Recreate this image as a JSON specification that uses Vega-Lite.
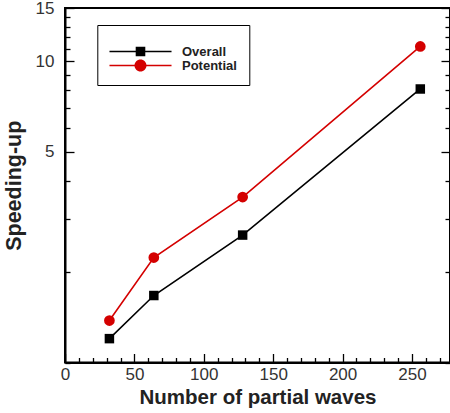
{
  "$schema": "https://vega.github.io/schema/vega-lite/v6.json",
  "width": 385,
  "height": 354.5,
  "autosize": {"type": "none"},
  "padding": {"left": 65, "top": 8, "right": 0, "bottom": 50.5},
  "background": "white",
  "config": {
    "font": "Liberation Sans",
    "view": {"stroke": "black", "strokeWidth": 2},
    "axis": {
      "grid": false,
      "labelOverlap": false,
      "domainColor": "black",
      "domainWidth": 2,
      "tickColor": "black",
      "tickWidth": 1.3,
      "labelFont": "Liberation Sans",
      "labelFontSize": 17,
      "labelColor": "#333333",
      "titleFont": "Liberation Sans",
      "titleFontSize": 20.5,
      "titleFontWeight": "bold",
      "titleColor": "#222222"
    },
    "legend": {
      "titleFontSize": 4,
      "titlePadding": 4,
      "orient": "none",
      "legendX": 32.3,
      "legendY": 17,
      "padding": 12,
      "rowPadding": 0,
      "columnPadding": 0,
      "symbolSize": 144,
      "symbolOpacity": 1,
      "symbolOffset": 24.7,
      "symbolStrokeWidth": 0,
      "labelOffset": 35,
      "labelFont": "Liberation Sans",
      "labelFontSize": 13,
      "labelFontWeight": "bold",
      "labelColor": "#222222",
      "strokeColor": "black",
      "fillColor": "white"
    }
  },
  "data": {
    "values": [
      {"waves": 32, "speedup": 1.20, "series": "Overall"},
      {"waves": 64, "speedup": 1.668, "series": "Overall"},
      {"waves": 128, "speedup": 2.647, "series": "Overall"},
      {"waves": 256, "speedup": 8.08, "series": "Overall"},
      {"waves": 32, "speedup": 1.378, "series": "Potential"},
      {"waves": 64, "speedup": 2.23, "series": "Potential"},
      {"waves": 128, "speedup": 3.539, "series": "Potential"},
      {"waves": 256, "speedup": 11.18, "series": "Potential"}
    ]
  },
  "layer": [
    {
      "layer": [
        {
          "mark": {"type": "point", "filled": true, "opacity": 0},
          "encoding": {
            "x": {
              "field": "waves",
              "type": "quantitative",
              "scale": {"domain": [0, 277.4], "nice": false, "zero": false},
              "axis": {
                "title": "Number of partial waves",
                "values": [0, 10, 20, 30, 40, 50, 60, 70, 80, 90, 100, 110, 120, 130, 140, 150, 160, 170, 180, 190, 200, 210, 220, 230, 240, 250, 260, 270],
                "tickCount": 100,
                "labelExpr": "datum.value % 50 == 0 ? datum.label : ''",
                "tickSize": {"condition": {"test": "datum.value % 50 == 0", "value": -9}, "value": -5},
                "labelPadding": 13,
                "titlePadding": 1,
                "labelFlush": false,
                "labelOverlap": false
              }
            },
            "y": {
              "field": "speedup",
              "type": "quantitative",
              "scale": {"type": "log", "domain": [1, 15], "nice": false},
              "axis": {
                "title": "Speeding-up",
                "titleFontSize": 21.5,
                "values": [1, 2, 3, 4, 5, 6, 7, 8, 9, 10, 11, 12, 13, 14, 15],
                "tickCount": 100,
                "labelExpr": "datum.value == 5 || datum.value == 10 || datum.value == 15 ? datum.label : ''",
                "tickSize": {"condition": {"test": "datum.value == 5 || datum.value == 10 || datum.value == 15", "value": -9}, "value": -5},
                "labelPadding": 20,
                "titlePadding": 10,
                "labelFlush": false,
                "labelOverlap": false
              }
            },
            "color": {
              "field": "series",
              "type": "nominal",
              "title": " ",
              "scale": {"domain": ["Overall", "Potential"], "range": ["#000000", "#d40000"]},
              "legend": {"title": " "}
            },
            "shape": {
              "field": "series",
              "type": "nominal",
              "title": " ",
              "scale": {
                "domain": ["Overall", "Potential"],
                "range": [
                  "M-5.17,-0.13H5.17V0.13H-5.17Z M-0.8,-0.8H0.8V0.8H-0.8Z",
                  "M-5.17,-0.13H5.17V0.13H-5.17Z M1,0A1,1,0,1,1,-1,0A1,1,0,1,1,1,0Z"
                ]
              },
              "legend": {"title": " "}
            }
          }
        },
        {
          "mark": {"type": "line", "strokeWidth": 1.6},
          "encoding": {
            "x": {"field": "waves", "type": "quantitative"},
            "y": {"field": "speedup", "type": "quantitative"},
            "color": {"field": "series", "type": "nominal", "title": " "}
          }
        },
        {
          "transform": [{"filter": "datum.series == 'Overall'"}],
          "mark": {"type": "point", "filled": true, "opacity": 1, "shape": "square", "size": 90},
          "encoding": {
            "x": {"field": "waves", "type": "quantitative"},
            "y": {"field": "speedup", "type": "quantitative"},
            "color": {"field": "series", "type": "nominal", "title": " "}
          }
        },
        {
          "transform": [{"filter": "datum.series == 'Potential'"}],
          "mark": {"type": "point", "filled": true, "opacity": 1, "shape": "circle", "size": 115},
          "encoding": {
            "x": {"field": "waves", "type": "quantitative"},
            "y": {"field": "speedup", "type": "quantitative"},
            "color": {"field": "series", "type": "nominal", "title": " "}
          }
        }
      ]
    },
    {
      "mark": {"type": "point", "opacity": 0},
      "encoding": {
        "x": {"field": "waves", "type": "quantitative"},
        "y": {
          "field": "speedup",
          "type": "quantitative",
          "axis": {
            "orient": "right",
            "title": null,
            "labels": false,
            "domain": false,
            "values": [1, 2, 3, 4, 5, 6, 7, 8, 9, 10, 11, 12, 13, 14, 15],
            "tickCount": 100,
            "tickSize": {"condition": {"test": "datum.value == 5 || datum.value == 10 || datum.value == 15", "value": -9}, "value": -5}
          }
        }
      }
    }
  ],
  "resolve": {"axis": {"y": "independent"}}
}
